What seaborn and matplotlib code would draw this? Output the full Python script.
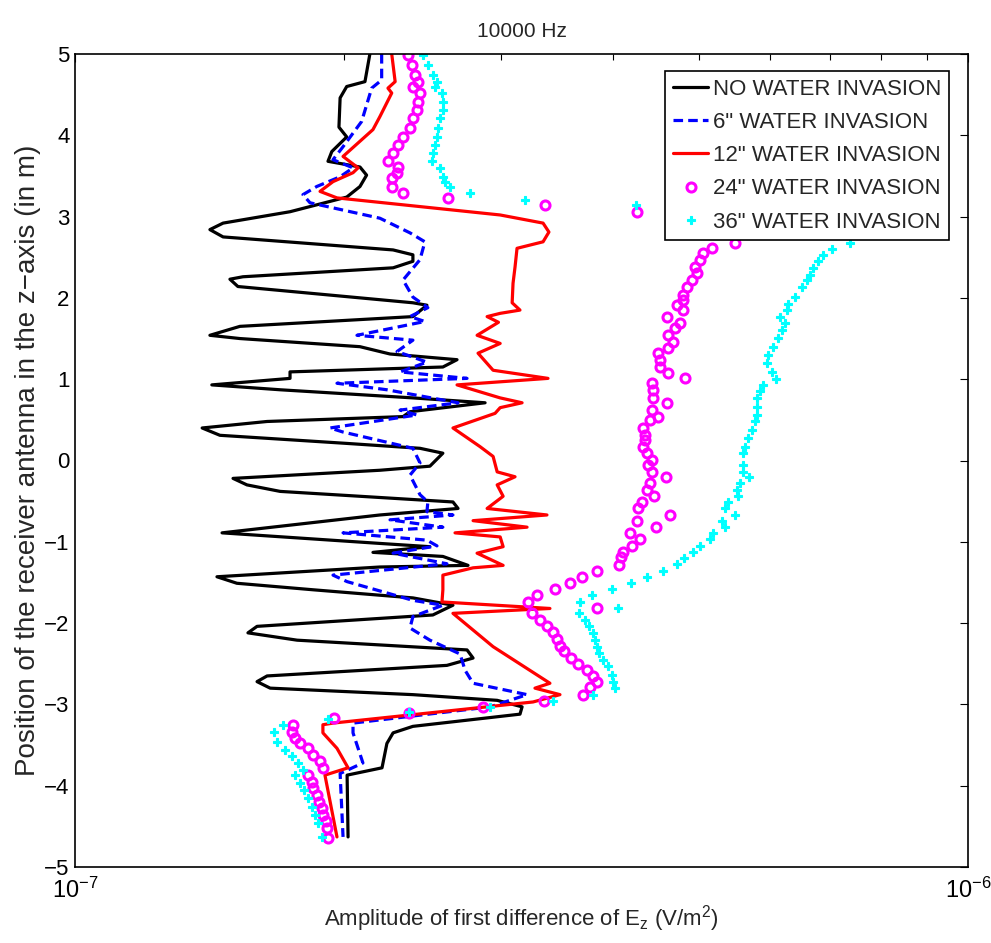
import numpy as np
import pandas as pd
import seaborn as sns
import matplotlib
matplotlib.use('Agg')
import matplotlib.pyplot as plt
from matplotlib.ticker import NullFormatter, LogLocator

# receiver position z (m) and amplitude (in units of 1e-7 V/m^2)
z_none = [5.00, 4.66, 4.60, 4.46, 4.10, 3.98, 3.80, 3.68, 3.61, 3.51, 3.37, 3.24, 3.06, 2.92, 2.84,
          2.75, 2.59, 2.53, 2.45, 2.37, 2.26, 2.23, 2.14, 1.94, 1.91, 1.77, 1.65, 1.54, 1.50, 1.40,
          1.31, 1.24, 1.15, 1.09, 1.01, 0.93, 0.87, 0.77, 0.71, 0.60, 0.54, 0.48, 0.40, 0.31, 0.21,
          0.15, 0.09, -0.07, -0.12, -0.22, -0.30, -0.38, -0.51, -0.59, -0.67, -0.89, -1.02, -1.06,
          -1.13, -1.18, -1.29, -1.31, -1.43, -1.51, -1.59, -1.69, -1.78, -1.90, -2.04, -2.12, -2.21,
          -2.33, -2.43, -2.52, -2.65, -2.72, -2.80, -2.88, -2.95, -3.03, -3.12, -3.27, -3.35, -3.48,
          -3.78, -3.87, -4.63]
a_none = [2.139, 2.112, 2.015, 1.981, 1.975, 2.015, 1.939, 1.920, 2.085, 2.121, 2.085, 2.015, 1.741,
          1.465, 1.416, 1.465, 2.271, 2.390, 2.390, 2.271, 1.542, 1.491, 1.522, 2.390, 2.478, 2.390,
          1.530, 1.416, 1.530, 2.085, 2.253, 2.678, 2.582, 1.741, 1.741, 1.423, 1.697, 2.390, 2.879,
          2.372, 2.330, 1.641, 1.388, 1.453, 2.017, 2.434, 2.582, 2.497, 2.195, 1.503, 1.558, 1.697,
          2.650, 2.685, 2.195, 1.461, 2.195, 2.497, 2.156, 2.582, 2.755, 2.195, 1.442, 1.518, 1.847,
          2.390, 2.650, 2.516, 1.599, 1.562, 1.773, 2.748, 2.791, 2.609, 1.641, 1.599, 1.654, 2.390,
          2.970, 3.167, 3.150, 2.390, 2.271, 2.235, 2.207, 2.017, 2.022]

z_6in = [5.00, 4.68, 4.58, 4.17, 3.86, 3.70, 3.60, 3.49, 3.37, 3.27, 3.17, 2.98, 2.80, 2.69, 2.47,
         2.22, 2.01, 1.88, 1.77, 1.71, 1.54, 1.48, 1.34, 1.21, 1.09, 1.01, 0.95, 0.87, 0.71, 0.62,
         0.56, 0.40, 0.35, 0.15, -0.03, -0.18, -0.42, -0.51, -0.63, -0.67, -0.73, -0.82, -0.89,
         -0.98, -1.05, -1.14, -1.27, -1.41, -1.49, -1.72, -1.78, -1.92, -2.06, -2.21, -2.38, -2.58,
         -2.74, -2.88, -3.03, -3.23, -3.35, -3.72, -3.85, -4.63]
a_6in = [2.205, 2.205, 2.149, 2.094, 1.996, 1.945, 2.048, 1.981, 1.865, 1.800, 1.833, 2.195, 2.372,
         2.465, 2.434, 2.330, 2.390, 2.484, 2.372, 2.465, 2.069, 2.390, 2.294, 2.478, 2.312, 2.748,
         1.965, 2.235, 2.685, 2.312, 2.415, 1.930, 1.996, 2.390, 2.434, 2.372, 2.434, 2.484, 2.478,
         2.650, 2.253, 2.582, 1.996, 2.478, 2.543, 2.271, 2.609, 1.945, 2.017, 2.390, 2.582, 2.390,
         2.372, 2.497, 2.699, 2.734, 2.791, 3.208, 2.917, 2.048, 2.048, 2.101, 1.981, 1.996]

z_12in = [5.00, 4.66, 4.58, 4.52, 4.23, 4.07, 3.74, 3.60, 3.54, 3.43, 3.31, 3.23, 3.02, 2.92, 2.81,
          2.69, 2.61, 2.38, 2.18, 1.94, 1.85, 1.81, 1.77, 1.70, 1.54, 1.44, 1.32, 1.11, 1.01, 0.93,
          0.77, 0.71, 0.65, 0.58, 0.40, 0.17, 0.05, -0.14, -0.20, -0.30, -0.44, -0.59, -0.67, -0.74,
          -0.82, -0.89, -0.94, -1.06, -1.14, -1.29, -1.32, -1.41, -1.59, -1.74, -1.82, -1.88, -2.29,
          -2.74, -2.80, -2.88, -2.97, -3.23, -3.25, -3.35, -3.54, -3.78, -3.87, -4.63]
a_12in = [2.263, 2.283, 2.241, 2.263, 2.195, 2.156, 1.996, 2.075, 2.048, 1.945, 1.881, 1.965, 2.993,
          3.343, 3.394, 3.343, 3.126, 3.110, 3.094, 3.087, 3.150, 2.993, 2.894, 2.980, 2.820, 2.993,
          2.827, 2.939, 3.386, 2.678, 2.993, 3.167, 2.993, 2.954, 2.650, 2.842, 2.939, 2.970, 3.110,
          2.970, 3.016, 2.894, 3.377, 2.791, 3.208, 2.664, 2.993, 3.016, 2.820, 3.016, 2.791, 2.582,
          2.582, 2.576, 3.403, 2.650, 2.939, 3.403, 3.274, 3.492, 3.258, 1.945, 1.895, 1.895, 1.965,
          2.022, 1.905, 1.965]

z_24in = [4.99, 4.86, 4.74, 4.66, 4.60, 4.52, 4.41, 4.31, 4.21, 4.09, 3.98, 3.88, 3.78, 3.68, 3.61,
          3.54, 3.47, 3.37, 3.29, 3.23, 3.14, 3.06, 2.67, 2.61, 2.55, 2.47, 2.38, 2.31, 2.22, 2.14,
          2.04, 1.97, 1.91, 1.85, 1.77, 1.69, 1.63, 1.54, 1.46, 1.38, 1.32, 1.24, 1.15, 1.08, 1.01,
          0.95, 0.87, 0.77, 0.71, 0.62, 0.54, 0.50, 0.40, 0.31, 0.25, 0.17, 0.09, 0.01, -0.06, -0.14,
          -0.20, -0.28, -0.36, -0.44, -0.51, -0.59, -0.67, -0.74, -0.82, -0.89, -0.97, -1.05, -1.12,
          -1.19, -1.29, -1.36, -1.43, -1.51, -1.58, -1.66, -1.74, -1.82, -1.88, -1.96, -2.04, -2.11,
          -2.20, -2.28, -2.34, -2.43, -2.50, -2.58, -2.65, -2.73, -2.79, -2.88, -2.96, -3.03, -3.11,
          -3.17, -3.25, -3.34, -3.41, -3.48, -3.54, -3.62, -3.70, -3.78, -3.87, -3.95, -4.03, -4.11,
          -4.20, -4.27, -4.36, -4.44, -4.52, -4.64]
a_24in = [2.360, 2.384, 2.403, 2.421, 2.390, 2.434, 2.421, 2.415, 2.390, 2.372, 2.330, 2.300, 2.271,
          2.241, 2.300, 2.294, 2.265, 2.265, 2.330, 2.616, 3.360, 4.260, 5.484, 5.169, 5.050, 5.011,
          4.946, 4.972, 4.908, 4.845, 4.797, 4.797, 4.722, 4.797, 4.602, 4.759, 4.698, 4.614, 4.674,
          4.614, 4.496, 4.520, 4.520, 4.614, 4.821, 4.427, 4.438, 4.438, 4.602, 4.427, 4.496, 4.404,
          4.325, 4.348, 4.348, 4.325, 4.370, 4.427, 4.381, 4.427, 4.590, 4.404, 4.370, 4.450, 4.314,
          4.270, 4.638, 4.260, 4.473, 4.184, 4.292, 4.205, 4.110, 4.088, 4.067, 3.842, 3.695, 3.583,
          3.447, 3.291, 3.216, 3.842, 3.250, 3.317, 3.377, 3.430, 3.465, 3.492, 3.528, 3.592, 3.658,
          3.743, 3.802, 3.842, 3.772, 3.705, 3.351, 2.864, 2.366, 1.950, 1.754, 1.750, 1.764, 1.786,
          1.824, 1.847, 1.881, 1.895, 1.824, 1.843, 1.847, 1.866, 1.876, 1.890, 1.895, 1.910, 1.915,
          1.920]

z_36in = [4.99, 4.86, 4.74, 4.66, 4.60, 4.52, 4.41, 4.31, 4.21, 4.09, 3.98, 3.88, 3.78, 3.68, 3.60,
          3.49, 3.43, 3.37, 3.29, 3.21, 3.14, 2.67, 2.60, 2.53, 2.45, 2.37, 2.28, 2.22, 2.14, 2.01,
          1.92, 1.85, 1.77, 1.69, 1.61, 1.51, 1.40, 1.30, 1.20, 1.09, 1.00, 0.93, 0.85, 0.77, 0.66,
          0.56, 0.48, 0.38, 0.28, 0.17, 0.09, -0.06, -0.14, -0.20, -0.28, -0.36, -0.44, -0.51, -0.59,
          -0.67, -0.74, -0.82, -0.89, -0.97, -1.05, -1.13, -1.20, -1.27, -1.36, -1.43, -1.51, -1.58,
          -1.66, -1.74, -1.82, -1.88, -1.96, -2.04, -2.12, -2.21, -2.29, -2.37, -2.45, -2.53, -2.64,
          -2.72, -2.80, -2.88, -2.96, -3.03, -3.09, -3.18, -3.25, -3.34, -3.46, -3.56, -3.64, -3.72,
          -3.81, -3.87, -3.97, -4.05, -4.15, -4.26, -4.36, -4.46, -4.63]
a_36in = [2.453, 2.484, 2.516, 2.543, 2.529, 2.576, 2.582, 2.582, 2.562, 2.549, 2.543, 2.529, 2.516,
          2.510, 2.562, 2.582, 2.596, 2.630, 2.769, 3.191, 4.249, 7.377, 7.042, 6.881, 6.792, 6.707,
          6.655, 6.604, 6.519, 6.402, 6.287, 6.271, 6.159, 6.239, 6.191, 6.127, 6.049, 5.971, 5.956,
          6.033, 6.096, 5.895, 5.850, 5.805, 5.805, 5.805, 5.775, 5.730, 5.671, 5.627, 5.598, 5.598,
          5.598, 5.686, 5.555, 5.512, 5.526, 5.386, 5.345, 5.484, 5.304, 5.345, 5.182, 5.142, 5.011,
          4.921, 4.808, 4.722, 4.555, 4.370, 4.195, 3.994, 3.793, 3.676, 4.057, 3.667, 3.724, 3.763,
          3.802, 3.822, 3.842, 3.862, 3.902, 3.953, 3.994, 4.004, 4.025, 3.802, 3.430, 2.917, 2.366,
          1.920, 1.710, 1.671, 1.684, 1.719, 1.750, 1.777, 1.800, 1.764, 1.786, 1.805, 1.824, 1.843,
          1.857, 1.871, 1.890]

labels = ['NO WATER INVASION', '6" WATER INVASION', '12" WATER INVASION',
          '24" WATER INVASION', '36" WATER INVASION']

sns.set_style('white')
plt.rcParams['font.family'] = ['Liberation Sans', 'DejaVu Sans']
plt.rcParams['mathtext.fontset'] = 'custom'
plt.rcParams['mathtext.rm'] = 'Liberation Sans'
plt.rcParams['mathtext.it'] = 'Liberation Sans'
plt.rcParams['axes.unicode_minus'] = True

fig = plt.figure(figsize=(9.91, 9.43), dpi=100)
ax = fig.add_axes([75 / 991, 1 - 867 / 943, 893 / 991, 813 / 943])
ax.set_xscale('log')

sc = 1e-7
sns.lineplot(x=np.array(a_none) * sc, y=z_none, sort=False, estimator=None, ax=ax,
             color='black', linewidth=2.3, label=labels[0])
sns.lineplot(x=np.array(a_6in) * sc, y=z_6in, sort=False, estimator=None, ax=ax,
             color='#0000ff', linewidth=2.3, linestyle=(0, (3, 1.6)), label=labels[1])
sns.lineplot(x=np.array(a_12in) * sc, y=z_12in, sort=False, estimator=None, ax=ax,
             color='#ff0000', linewidth=2.3, label=labels[2])
sns.lineplot(x=np.array(a_24in) * sc, y=z_24in, sort=False, estimator=None, ax=ax,
             color='#ff00ff', linestyle='none', marker='o', markersize=6.5,
             markerfacecolor='none', markeredgecolor='#ff00ff', markeredgewidth=2.2,
             label=labels[3])
sns.lineplot(x=np.array(a_36in) * sc, y=z_36in, sort=False, estimator=None, ax=ax,
             color='#00ffff', linestyle='none', marker='P', markersize=6,
             markerfacecolor='#00ffff', markeredgecolor='#00ffff', markeredgewidth=0.8,
             label=labels[4])

ax.set_xlim(1e-7, 1e-6)
ax.set_ylim(-5, 5)
ax.set_yticks(range(-5, 6))
ax.xaxis.set_major_locator(LogLocator(base=10, numticks=5))
ax.xaxis.set_minor_locator(LogLocator(base=10, subs=np.arange(2, 10), numticks=20))
ax.xaxis.set_minor_formatter(NullFormatter())
ax.tick_params(which='both', direction='in', top=True, right=True, labelsize=16,
               colors='black')
ax.tick_params(axis='x', labelsize=17)
ax.tick_params(which='major', length=6, width=0.8)
ax.tick_params(which='minor', length=4, width=0.8)
ax.tick_params(axis='x', pad=8)
ax.tick_params(axis='y', pad=4)
for s in ax.spines.values():
    s.set_color('black')
    s.set_linewidth(1.2)

ax.set_title('10000 Hz', fontsize=15, pad=12)
ax.set_xlabel('Amplitude of first difference of E$_z$ (V/m$^2$)', fontsize=16, labelpad=0)
ax.set_ylabel('Position of the receiver antenna in the z\u2212axis (in m)', fontsize=20, labelpad=2)

leg = ax.legend(loc='upper right', bbox_to_anchor=(949 / 991, 1 - 71 / 943),
                bbox_transform=fig.transFigure, borderaxespad=0, fontsize=16,
                frameon=True, fancybox=False, framealpha=1, edgecolor='black',
                handlelength=1.6, handletextpad=0.2, borderpad=0.35, labelspacing=0.55)
leg.get_frame().set_linewidth(1.2)

fig.savefig('out.png', dpi=100)
